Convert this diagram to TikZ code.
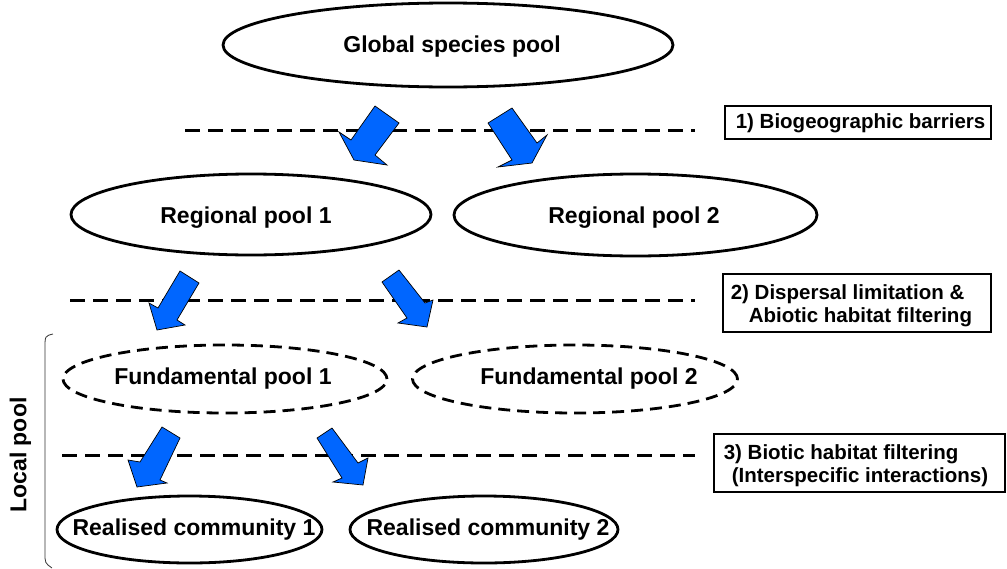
\documentclass[tikz,border=0pt]{standalone}
\usepackage{fontspec}
\setmainfont{Liberation Sans}
\usetikzlibrary{shapes.geometric}
\definecolor{arrowblue}{RGB}{0,102,255}
\begin{document}
\begin{tikzpicture}[x=1pt,y=-1pt,
  pool/.style={ellipse, draw, line width=2.8pt, inner sep=0pt},
  fpool/.style={pool, dash pattern=on 12pt off 7pt},
  pooltext/.style={font=\fontsize{23}{27}\selectfont\bfseries, inner sep=0pt, text depth=0pt},
  barrier/.style={line width=3pt, dash pattern=on 15pt off 8pt},
  stagebox/.style={draw, line width=2.8pt, inner sep=0pt},
  stagetext/.style={inner sep=0pt, align=left, font=\fontsize{20.5}{23.5}\selectfont\bfseries},
  blockarrow/.style={fill=arrowblue, draw=black, line width=0.7pt, line join=miter}]
\useasboundingbox (0,0) rectangle (1007,568);

% species pools
\node[pool, minimum width=450pt, minimum height=84pt] (global) at (448,45) {};
\node[pooltext] (globaltext) at (452,44) {Global species pool};
\node[pool, minimum width=360pt, minimum height=81pt] (reg1) at (251,214.5) {};
\node[pooltext] (reg1text) at (246,215) {Regional pool 1};
\node[pool, minimum width=363pt, minimum height=82pt] (reg2) at (635.5,215) {};
\node[pooltext] (reg2text) at (634,215) {Regional pool 2};
\node[fpool, minimum width=324pt, minimum height=68pt] (fund1) at (225,379) {};
\node[pooltext] (fund1text) at (223,376) {Fundamental pool 1};
\node[fpool, minimum width=325pt, minimum height=68pt] (fund2) at (575,379) {};
\node[pooltext] (fund2text) at (589,376) {Fundamental pool 2};
\node[pool, minimum width=265pt, minimum height=67pt] (real1) at (189.5,529.5) {};
\node[pooltext] (real1text) at (194,527) {Realised community 1};
\node[pool, minimum width=268pt, minimum height=67pt] (real2) at (484,529.5) {};
\node[pooltext] (real2text) at (488,527) {Realised community 2};

% filter lines
\coordinate (b1l) at (185,130); \coordinate (b1r) at (695,130);
\coordinate (b2l) at (70,300);  \coordinate (b2r) at (695,300);
\coordinate (b3l) at (62,455);  \coordinate (b3r) at (695,455);
\draw[barrier] (b1l) -- (b1r);
\draw[barrier] (b2l) -- (b2r);
\draw[barrier] (b3l) -- (b3r);

% filter labels
\node[stagebox, minimum width=266pt, minimum height=33pt] (stage1) at (858,122.5) {};
\node[stagetext, anchor=west] (stage1text) at ([xshift=12pt,yshift=-1pt]stage1.west)
  {1) Biogeographic barriers};
\node[stagebox, minimum width=268pt, minimum height=58pt] (stage2) at (857,303) {};
\node[stagetext, anchor=west] (stage2text) at ([xshift=9pt,yshift=-2.5pt]stage2.west)
  {2) Dispersal limitation \&\\\hspace*{18pt}Abiotic habitat filtering};
\node[stagebox, minimum width=291pt, minimum height=58pt] (stage3) at (859.5,463) {};
\node[stagetext, anchor=west] (stage3text) at ([xshift=11pt,yshift=-2.5pt]stage3.west)
  {3) Biotic habitat filtering\\\hspace*{8pt}(Interspecific interactions)};

% block arrows
\draw[blockarrow] (375,106) -- (399,123) -- (375,155) -- (387,165) -- (354,160) -- (339,132) -- (351,140) -- cycle;
\draw[blockarrow] (488,123) -- (512,108) -- (537,143) -- (547,135) -- (532,163) -- (498,167) -- (512,160) -- cycle;
\draw[blockarrow] (180,271) -- (199,283) -- (177,320) -- (185,325) -- (157,330) -- (149,303) -- (158,308) -- cycle;
\draw[blockarrow] (382,282) -- (399,270) -- (425,303) -- (433,300) -- (427,327) -- (398,323) -- (407,318) -- cycle;
\draw[blockarrow] (162,427) -- (180,438) -- (160,480) -- (167,483) -- (137,487) -- (128,460) -- (140,462) -- cycle;
\draw[blockarrow] (317,438) -- (332,428) -- (358,463) -- (368,458) -- (363,485) -- (333,482) -- (342,478) -- cycle;

% local pool bracket
\coordinate (brtop) at (53,334);
\coordinate (brbot) at (52,568);
\draw[line width=0.8pt, black!80] (brtop) .. controls (45,336) .. (45,348) -- (45,553) .. controls (45,563) .. (brbot);
\node[rotate=90, pooltext] (localpool) at (18,455) {Local pool};
\end{tikzpicture}
\end{document}
